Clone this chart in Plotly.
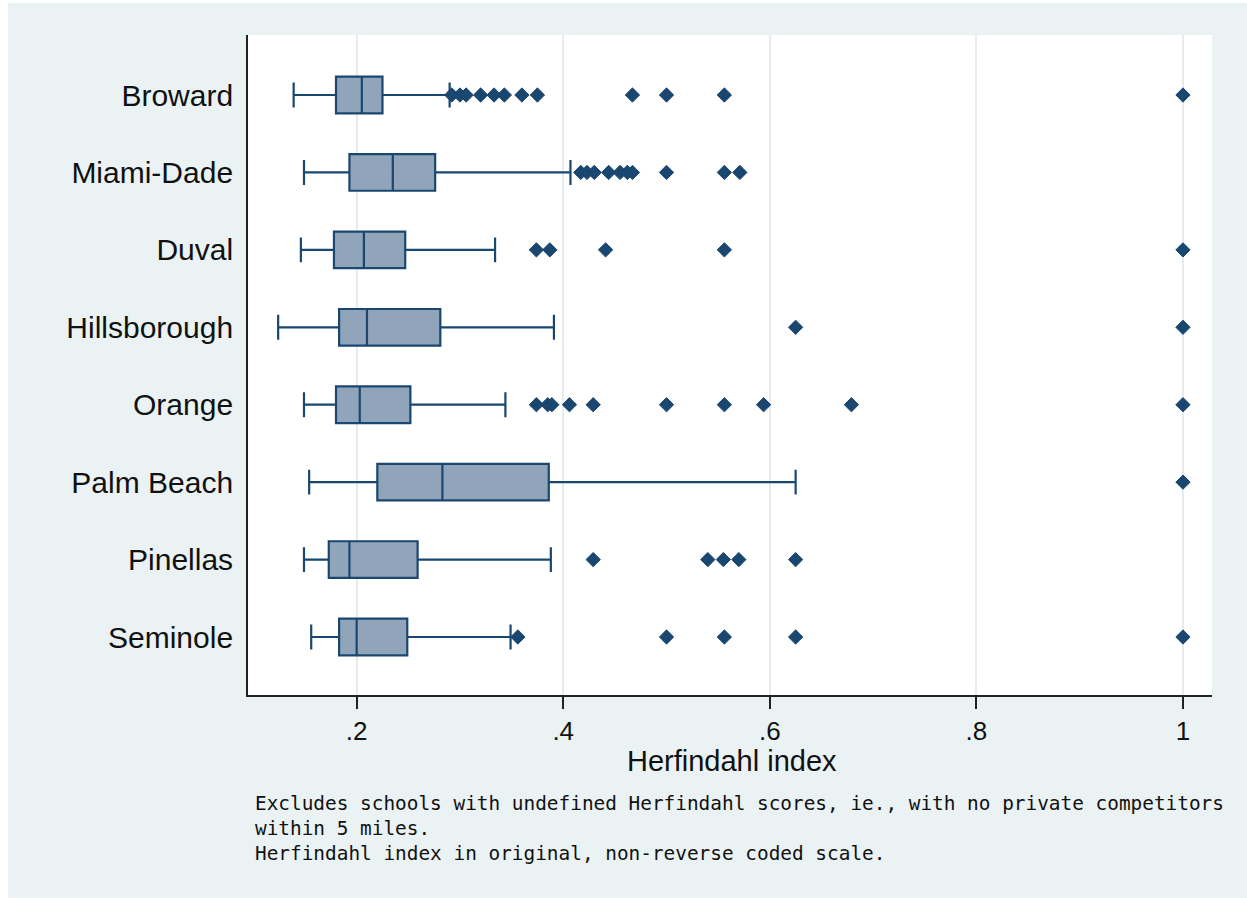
import plotly.graph_objects as go

# ---------------- data ----------------
counties = ["Broward", "Miami-Dade", "Duval", "Hillsborough",
            "Orange", "Palm Beach", "Pinellas", "Seminole"]

lower_adj = [0.139, 0.149, 0.146, 0.124, 0.149, 0.154, 0.149, 0.156]
q1_vals   = [0.180, 0.193, 0.178, 0.183, 0.180, 0.220, 0.173, 0.183]
medians   = [0.205, 0.235, 0.207, 0.210, 0.203, 0.283, 0.193, 0.200]
q3_vals   = [0.225, 0.276, 0.247, 0.281, 0.252, 0.386, 0.259, 0.249]
upper_adj = [0.290, 0.407, 0.334, 0.391, 0.344, 0.625, 0.388, 0.349]

broward_out      = [0.292, 0.300, 0.306, 0.320, 0.333, 0.343, 0.360, 0.375, 0.467, 0.500, 0.556, 1.0]
miami_dade_out   = [0.417, 0.423, 0.430, 0.444, 0.455, 0.462, 0.467, 0.500, 0.556, 0.571]
duval_out        = [0.374, 0.387, 0.441, 0.556, 1.0]
hillsborough_out = [0.625, 1.0]
orange_out       = [0.374, 0.385, 0.389, 0.406, 0.429, 0.500, 0.556, 0.594, 0.679, 1.0]
palm_beach_out   = [1.0]
pinellas_out     = [0.429, 0.540, 0.555, 0.570, 0.625]
seminole_out     = [0.356, 0.500, 0.556, 0.625, 1.0]

x_ticks = [0.2, 0.4, 0.6, 0.8, 1.0]
x_tick_labels = [".2", ".4", ".6", ".8", "1"]

x_title = "Herfindahl index"
note_text = ("Excludes schools with undefined Herfindahl scores, ie., with no private competitors<br>"
             "within 5 miles.<br>"
             "Herfindahl index in original, non-reverse coded scale.")

# ---------------- styling ----------------
NAVY = "#1A476F"
BOX_FILL = "#90A5BA"
BG = "#EAF2F3"
GRID = "#E4ECEF"
LABEL_FONT = "Liberation Sans, Arial, sans-serif"
NOTE_FONT = "DejaVu Sans Mono, monospace"

outlier_lists = [broward_out, miami_dade_out, duval_out, hillsborough_out,
                 orange_out, palm_beach_out, pinellas_out, seminole_out]
out_x, out_y = [], []
for c, vals in zip(counties, outlier_lists):
    out_x.extend(vals)
    out_y.extend([c] * len(vals))

fig = go.Figure()
fig.add_trace(go.Box(
    y=counties, orientation="h",
    q1=q1_vals, median=medians, q3=q3_vals,
    lowerfence=lower_adj, upperfence=upper_adj,
    boxpoints=False,
    width=0.473, whiskerwidth=0.68,
    fillcolor=BOX_FILL,
    line=dict(color=NAVY, width=2.2),
    showlegend=False, hoverinfo="skip",
))
fig.add_trace(go.Scatter(
    x=out_x, y=out_y, mode="markers",
    marker=dict(symbol="diamond", size=11, color=NAVY,
                line=dict(color=NAVY, width=1)),
    showlegend=False, hoverinfo="skip",
))

fig.update_layout(
    width=1247, height=898,
    margin=dict(l=248, r=35, t=35, b=203),
    paper_bgcolor=BG, plot_bgcolor="white",
    showlegend=False,
    xaxis=dict(
        range=[0.0948, 1.0281],
        tickmode="array", tickvals=x_ticks, ticktext=x_tick_labels,
        ticks="outside", ticklen=12, tickwidth=1.5, tickcolor="#222",
        tickfont=dict(family=LABEL_FONT, size=26, color="#111"),
        showgrid=True, gridcolor=GRID, gridwidth=2,
        showline=True, linecolor="#222", linewidth=1.8,
        zeroline=False,
    ),
    yaxis=dict(
        type="category",
        categoryorder="array", categoryarray=counties,
        range=[7.749, -0.775],
        ticks="", ticklabelstandoff=7,
        tickfont=dict(family=LABEL_FONT, size=30, color="#111"),
        showgrid=False,
        showline=True, linecolor="#222", linewidth=1.8,
        zeroline=False,
    ),
    shapes=[
        dict(type="rect", xref="paper", yref="paper",
             x0=-0.30, x1=(8 - 248) / 964, y0=-0.40, y1=1.10,
             fillcolor="white", line=dict(width=0), layer="below"),
        dict(type="rect", xref="paper", yref="paper",
             x0=-0.30, x1=1.10, y0=(695 - 3) / 660, y1=1.10,
             fillcolor="white", line=dict(width=0), layer="below"),
    ],
    annotations=[
        dict(text=x_title, xref="paper", yref="paper",
             x=(731.5 - 248) / 964, y=(695 - 761) / 660,
             xanchor="center", yanchor="middle", showarrow=False,
             font=dict(family=LABEL_FONT, size=29, color="#111")),
        dict(text=note_text, xref="paper", yref="paper",
             x=(253 - 248) / 964, y=(695 - 790) / 660,
             xanchor="left", yanchor="top", align="left", showarrow=False,
             font=dict(family=NOTE_FONT, size=19.4, color="#111")),
    ],
)

fig.write_html("out.html",
               config={"displayModeBar": False},
               post_script="document.body.style.margin='0';document.body.style.overflow='hidden';")
